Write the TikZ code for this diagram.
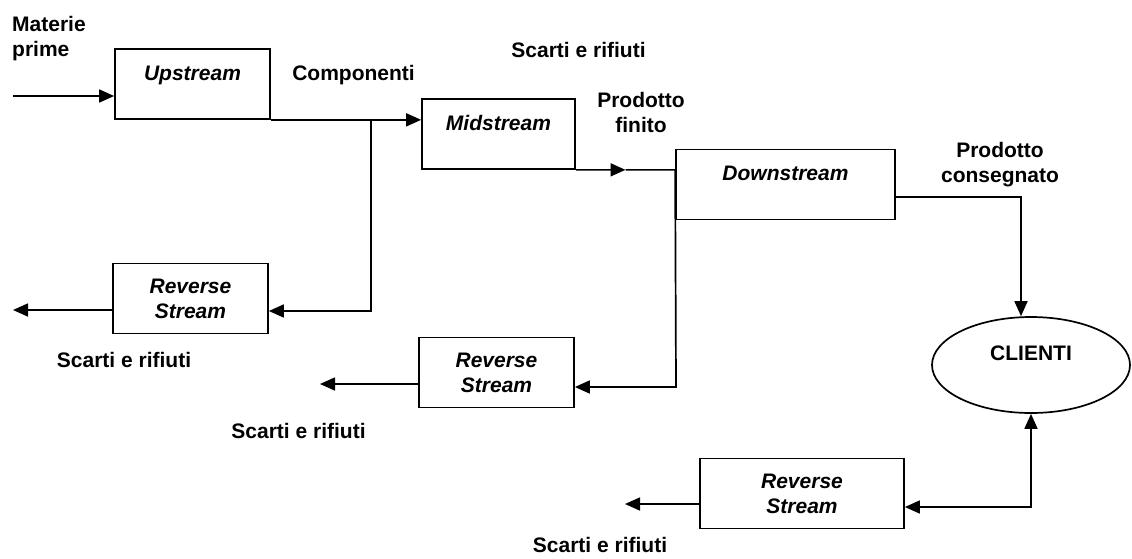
\documentclass[tikz,border=0pt]{standalone}
\usepackage{fontspec}
\setmainfont{Liberation Sans}
\usetikzlibrary{calc}
\usetikzlibrary{positioning, arrows.meta, shapes.geometric}

\begin{document}
\begin{tikzpicture}[
  x=1pt, y=-1pt,
  every node/.style={font=\fontsize{21}{25}\selectfont\bfseries, inner sep=0pt},
  stream/.style={draw, line width=1.7pt, minimum height=70pt, align=center, font=\fontsize{21}{25}\selectfont\bfseries\itshape},
  toptext/.style={text height=15pt, text depth=23pt},
  arrow/.style={-{Triangle[length=15pt,width=13pt]}, line width=1.7pt},
  both/.style={{Triangle[length=15pt,width=13pt]}-{Triangle[length=15pt,width=13pt]}, line width=1.7pt}
]
\useasboundingbox (0,0) rectangle (1132,558);

\node[stream, toptext, minimum width=155pt] (up) at (192.5,84) {Upstream};
\node[stream, toptext, minimum width=153pt] (mid) at (498.5,134) {Midstream};
\node[stream, toptext, minimum width=219pt] (down) at (785.5,184.5) {Downstream};
\node[stream, minimum width=155pt] (rev1) at (190.5,298.5) {Reverse\\Stream};
\node[stream, minimum width=155pt] (rev2) at (496.5,372.5) {Reverse\\Stream};
\node[stream, minimum width=204pt] (rev3) at (802,493.5) {Reverse\\Stream};
\node[draw, ellipse, line width=1.7pt, minimum width=198pt, minimum height=96pt, text depth=24pt] (cli) at (1031,365) {CLIENTI};

\node[anchor=north west, align=left] (raw) at (12,16) {Materie\\prime};
\node[anchor=north] (comp) at (353.5,65) {Componenti};
\node[anchor=north] (waste0) at (578.5,42) {Scarti e rifiuti};
\node[anchor=north, align=center] (fin) at (641,92) {Prodotto\\finito};
\node[anchor=north, align=center] (deliv) at (1000,142) {Prodotto\\consegnato};
\node[anchor=north] (waste1) at (124,352) {Scarti e rifiuti};
\node[anchor=north] (waste2) at (298.5,423) {Scarti e rifiuti};
\node[anchor=north] (waste3) at (600,537) {Scarti e rifiuti};

% junctions and loose ends
\coordinate (src) at (13,96);
\coordinate (split1) at (371,119);
\coordinate (bend1) at (371,311);
\coordinate (sink1) at (13,310);
\coordinate (half) at ($(mid.south east)!0.5!(mid.south east -| down.west)$);
\coordinate (bend2) at (676,387);
\coordinate (sink2) at (320,384);
\coordinate (bend3) at (1021,197);
\coordinate (bend4) at (1031,507);
\coordinate (sink3) at (625,504);

\draw[arrow] (src) -- (src -| up.west);
\draw[arrow] (up.south east) -- (up.south east -| mid.west);
\draw[arrow] (split1) -- (bend1) -- (bend1 -| rev1.east);
\draw[arrow] (rev1.west |- sink1) -- (sink1);
\draw[arrow] (mid.south east) -- (half);
\draw[arrow] (half) -- (mid.south east -| down.west) -- (bend2) -- (bend2 -| rev2.east);
\draw[arrow] (rev2.west |- sink2) -- (sink2);
\draw[arrow] (down.east |- bend3) -- (bend3) -- (bend3 |- cli.north);
\draw[both] (rev3.east |- bend4) -- (bend4) -- (cli.south);
\draw[arrow] (rev3.west |- sink3) -- (sink3);
\end{tikzpicture}
\end{document}
